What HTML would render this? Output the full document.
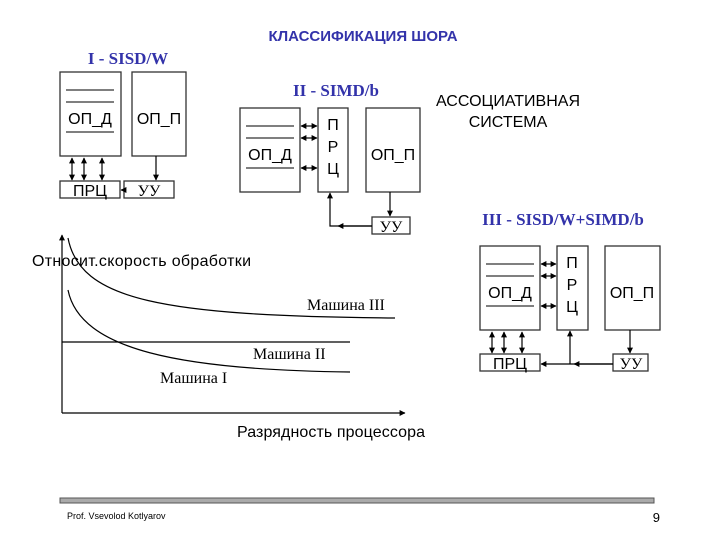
<!DOCTYPE html>
<html><head><meta charset="utf-8"><style>
html,body{margin:0;padding:0;background:#fff}
svg{display:block}
text{font-family:"Liberation Sans",sans-serif}
.b{fill:#3333aa;font-weight:bold;font-size:17px;font-family:"Liberation Serif",serif}
.t{font-size:16px;fill:#000}
.s{font-size:16px;fill:#000;font-family:"Liberation Serif",serif}
</style></head><body>
<svg width="720" height="540" viewBox="0 0 720 540" xmlns="http://www.w3.org/2000/svg">
<defs>
<marker id="a" viewBox="0 0 10 10" refX="9" refY="5" markerWidth="5" markerHeight="5" orient="auto-start-reverse"><path d="M0,0L10,5L0,10z" fill="#000"/></marker>
</defs>
<text x="363" y="41" text-anchor="middle" fill="#3333aa" font-weight="bold" font-size="15">КЛАССИФИКАЦИЯ ШОРА</text>
<text x="128" y="64" text-anchor="middle" class="b">I - SISD/W</text>
<text x="336" y="96" text-anchor="middle" class="b">II - SIMD/b</text>
<text x="563" y="225" text-anchor="middle" class="b">III - SISD/W+SIMD/b</text>
<text x="508" y="106" text-anchor="middle" class="t">АССОЦИАТИВНАЯ</text>
<text x="508" y="127" text-anchor="middle" class="t">СИСТЕМА</text>
<g fill="none" stroke="#333" stroke-width="1.3">
<rect x="60" y="72" width="61" height="84"/><rect x="132" y="72" width="54" height="84"/>
<rect x="60" y="181" width="60" height="17"/><rect x="124" y="181" width="50" height="17"/>
<line x1="66" y1="90" x2="114" y2="90"/><line x1="66" y1="102" x2="114" y2="102"/><line x1="66" y1="132" x2="114" y2="132"/>
<rect x="240" y="108" width="60" height="84"/><rect x="318" y="108" width="30" height="84"/>
<rect x="366" y="108" width="54" height="84"/><rect x="372" y="217" width="38" height="17"/>
<line x1="246" y1="126" x2="294" y2="126"/><line x1="246" y1="138" x2="294" y2="138"/><line x1="246" y1="168" x2="294" y2="168"/>
<rect x="480" y="246" width="60" height="84"/><rect x="557" y="246" width="31" height="84"/>
<rect x="605" y="246" width="55" height="84"/>
<rect x="480" y="354" width="60" height="17"/><rect x="613" y="354" width="35" height="17"/>
<line x1="486" y1="264" x2="534" y2="264"/><line x1="486" y1="276" x2="534" y2="276"/><line x1="486" y1="306" x2="534" y2="306"/>
</g>
<g stroke="#000" stroke-width="1.2" fill="none">
<line x1="72" y1="158" x2="72" y2="180" marker-start="url(#a)" marker-end="url(#a)"/>
<line x1="84" y1="158" x2="84" y2="180" marker-start="url(#a)" marker-end="url(#a)"/>
<line x1="102" y1="158" x2="102" y2="180" marker-start="url(#a)" marker-end="url(#a)"/>
<line x1="156" y1="156" x2="156" y2="180" marker-end="url(#a)"/>
<line x1="124" y1="190" x2="121" y2="190" marker-end="url(#a)"/>
<line x1="301" y1="126" x2="317" y2="126" marker-start="url(#a)" marker-end="url(#a)"/>
<line x1="301" y1="138" x2="317" y2="138" marker-start="url(#a)" marker-end="url(#a)"/>
<line x1="301" y1="168" x2="317" y2="168" marker-start="url(#a)" marker-end="url(#a)"/>
<line x1="390" y1="192" x2="390" y2="216" marker-end="url(#a)"/>
<polyline points="372,226 330,226 330,193" marker-end="url(#a)"/>
<line x1="372" y1="226" x2="338" y2="226" marker-end="url(#a)"/>
<line x1="541" y1="264" x2="556" y2="264" marker-start="url(#a)" marker-end="url(#a)"/>
<line x1="541" y1="276" x2="556" y2="276" marker-start="url(#a)" marker-end="url(#a)"/>
<line x1="541" y1="306" x2="556" y2="306" marker-start="url(#a)" marker-end="url(#a)"/>
<line x1="492" y1="332" x2="492" y2="353" marker-start="url(#a)" marker-end="url(#a)"/>
<line x1="504" y1="332" x2="504" y2="353" marker-start="url(#a)" marker-end="url(#a)"/>
<line x1="522" y1="332" x2="522" y2="353" marker-start="url(#a)" marker-end="url(#a)"/>
<line x1="630" y1="330" x2="630" y2="353" marker-end="url(#a)"/>
<line x1="613" y1="364" x2="541" y2="364" marker-end="url(#a)"/>
<line x1="613" y1="364" x2="574" y2="364" marker-end="url(#a)"/>
<line x1="570" y1="364" x2="570" y2="331" marker-end="url(#a)"/>
<line x1="62" y1="413" x2="62" y2="235" marker-end="url(#a)"/>
<line x1="62" y1="413" x2="405" y2="413" marker-end="url(#a)"/>
<line x1="62" y1="342" x2="350" y2="342"/>
<path d="M68,238 C80,300 160,316 395,318"/>
<path d="M68,290 C80,350 180,370 350,372"/>
</g>
<text x="90" y="124" text-anchor="middle" class="t">ОП_Д</text>
<text x="159" y="124" text-anchor="middle" class="t">ОП_П</text>
<text x="90" y="196" text-anchor="middle" class="t">ПРЦ</text>
<text x="149" y="196" text-anchor="middle" class="s">УУ</text>
<text x="270" y="160" text-anchor="middle" class="t">ОП_Д</text>
<text x="333" y="130" text-anchor="middle" class="t">П</text>
<text x="333" y="152" text-anchor="middle" class="t">Р</text>
<text x="333" y="174" text-anchor="middle" class="t">Ц</text>
<text x="393" y="160" text-anchor="middle" class="t">ОП_П</text>
<text x="391" y="232" text-anchor="middle" class="s">УУ</text>
<text x="510" y="298" text-anchor="middle" class="t">ОП_Д</text>
<text x="572" y="268" text-anchor="middle" class="t">П</text>
<text x="572" y="290" text-anchor="middle" class="t">Р</text>
<text x="572" y="312" text-anchor="middle" class="t">Ц</text>
<text x="632" y="298" text-anchor="middle" class="t">ОП_П</text>
<text x="510" y="369" text-anchor="middle" class="t">ПРЦ</text>
<text x="631" y="369" text-anchor="middle" class="s">УУ</text>
<text x="32" y="266" class="t" textLength="219">Относит.скорость обработки</text>
<text x="307" y="310" class="s">Машина III</text>
<text x="253" y="359" class="s">Машина II</text>
<text x="160" y="383" class="s">Машина I</text>
<text x="237" y="437" class="t" textLength="188">Разрядность процессора</text>
<rect x="60" y="498" width="594" height="5" fill="#aaa" stroke="#555" stroke-width="1"/>
<text x="67" y="519" font-size="9" fill="#000">Prof. Vsevolod Kotlyarov</text>
<text x="660" y="522" font-size="13" text-anchor="end" fill="#000">9</text>
</svg>
</body></html>
